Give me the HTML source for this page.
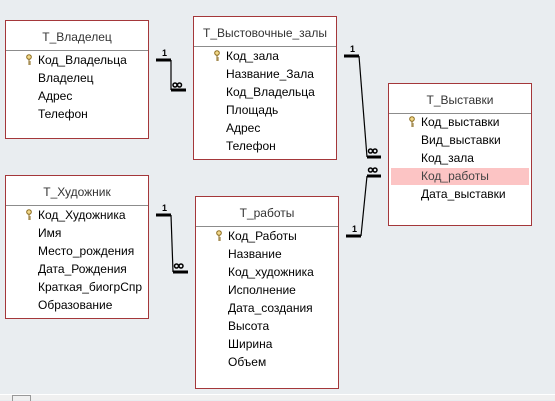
<!DOCTYPE html>
<html><head><meta charset="utf-8"><style>
body{margin:0;width:555px;height:400px;background:#e9edf0;position:relative;overflow:hidden;font-family:"Liberation Sans","DejaVu Sans",sans-serif;}
.t{position:absolute;background:#fff;border:1px solid #a4373a;box-sizing:border-box;}
.h{height:29px;border-bottom:1px solid #8c8c8c;text-align:center;font-size:12px;color:#333;line-height:33px;}
.r{position:absolute;font-size:12px;color:#000;left:0;right:0;height:17px;line-height:17px;padding-left:32px;}
.hl{background:#fcc4c4;color:#444;margin:0 2px;padding-left:30px;}
.k{position:absolute;left:20px;top:2px;width:6px;height:12px;}
svg.o{position:absolute;left:0;top:0;}
</style></head><body>
<div style="position:absolute;left:0;top:394px;width:555px;height:1px;background:#fff"></div>
<div style="position:absolute;left:0;top:395px;width:555px;height:5px;background:#f0f0f0"></div>
<div style="position:absolute;left:12px;top:395px;width:17px;height:5px;border:1px solid #999;border-bottom:none"></div>

<div class="t" style="left:5px;top:20px;width:144px;height:119px">
<div class="h">T_Владелец</div>
<div class="r" style="top:31px"><svg class="k" viewBox="0 0 6 12"><circle cx="3" cy="3" r="2.3" fill="#f3d98a" stroke="#8a6a1e"/><path d="M3 5V11M3 8H5M3 10H5" stroke="#8a6a1e" fill="none"/></svg>Код_Владельца</div>
<div class="r" style="top:49px">Владелец</div>
<div class="r" style="top:67px">Адрес</div>
<div class="r" style="top:85px">Телефон</div>
</div>

<div class="t" style="left:193px;top:16px;width:144px;height:144px">
<div class="h">T_Выстовочные_залы</div>
<div class="r" style="top:31px"><svg class="k" viewBox="0 0 6 12"><circle cx="3" cy="3" r="2.3" fill="#f3d98a" stroke="#8a6a1e"/><path d="M3 5V11M3 8H5M3 10H5" stroke="#8a6a1e" fill="none"/></svg>Код_зала</div>
<div class="r" style="top:49px">Название_Зала</div>
<div class="r" style="top:67px">Код_Владельца</div>
<div class="r" style="top:85px">Площадь</div>
<div class="r" style="top:103px">Адрес</div>
<div class="r" style="top:121px">Телефон</div>
</div>

<div class="t" style="left:5px;top:175px;width:144px;height:144px">
<div class="h">T_Художник</div>
<div class="r" style="top:31px"><svg class="k" viewBox="0 0 6 12"><circle cx="3" cy="3" r="2.3" fill="#f3d98a" stroke="#8a6a1e"/><path d="M3 5V11M3 8H5M3 10H5" stroke="#8a6a1e" fill="none"/></svg>Код_Художника</div>
<div class="r" style="top:49px">Имя</div>
<div class="r" style="top:67px">Место_рождения</div>
<div class="r" style="top:85px">Дата_Рождения</div>
<div class="r" style="top:103px">Краткая_биогрСпр</div>
<div class="r" style="top:121px">Образование</div>
</div>

<div class="t" style="left:195px;top:196px;width:144px;height:193px">
<div class="h">T_работы</div>
<div class="r" style="top:31px"><svg class="k" viewBox="0 0 6 12"><circle cx="3" cy="3" r="2.3" fill="#f3d98a" stroke="#8a6a1e"/><path d="M3 5V11M3 8H5M3 10H5" stroke="#8a6a1e" fill="none"/></svg>Код_Работы</div>
<div class="r" style="top:49px">Название</div>
<div class="r" style="top:67px">Код_художника</div>
<div class="r" style="top:85px">Исполнение</div>
<div class="r" style="top:103px">Дата_создания</div>
<div class="r" style="top:121px">Высота</div>
<div class="r" style="top:139px">Ширина</div>
<div class="r" style="top:157px">Объем</div>
</div>

<div class="t" style="left:388px;top:83px;width:144px;height:143px">
<div class="h">T_Выставки</div>
<div class="r" style="top:30px"><svg class="k" viewBox="0 0 6 12"><circle cx="3" cy="3" r="2.3" fill="#f3d98a" stroke="#8a6a1e"/><path d="M3 5V11M3 8H5M3 10H5" stroke="#8a6a1e" fill="none"/></svg>Код_выставки</div>
<div class="r" style="top:48px">Вид_выставки</div>
<div class="r" style="top:66px">Код_зала</div>
<div class="r hl" style="top:84px">Код_работы</div>
<div class="r" style="top:102px">Дата_выставки</div>
</div>

<svg class="o" width="555" height="400">
<g stroke="#000" fill="none">
<path d="M156 60H171" stroke-width="3"/><path d="M171 60V90" stroke-width="1.2"/><path d="M171 90H186" stroke-width="3"/>
<path d="M344 56H359" stroke-width="3"/><path d="M359 56L367 157" stroke-width="1.2"/><path d="M367 157H381" stroke-width="3"/>
<path d="M346 236H361" stroke-width="3"/><path d="M361 236L367 176" stroke-width="1.2"/><path d="M367 176H381" stroke-width="3"/>
<path d="M156 215H171" stroke-width="3"/><path d="M171 215L173 272" stroke-width="1.2"/><path d="M173 272H188" stroke-width="3"/>
<g stroke-width="1.5">
<circle cx="175" cy="85" r="2"/><circle cx="179.5" cy="85" r="2"/>
<circle cx="370.5" cy="151" r="2"/><circle cx="375" cy="151" r="2"/>
<circle cx="370.5" cy="170" r="2"/><circle cx="375" cy="170" r="2"/>
<circle cx="176.5" cy="266" r="2"/><circle cx="181" cy="266" r="2"/>
</g>
</g>
<g font-family="Liberation Sans,sans-serif" font-size="9" font-weight="bold" fill="#000">
<text x="162" y="56">1</text><text x="350" y="52">1</text><text x="352" y="232">1</text><text x="162" y="211">1</text>
</g>
</svg>
</body></html>
